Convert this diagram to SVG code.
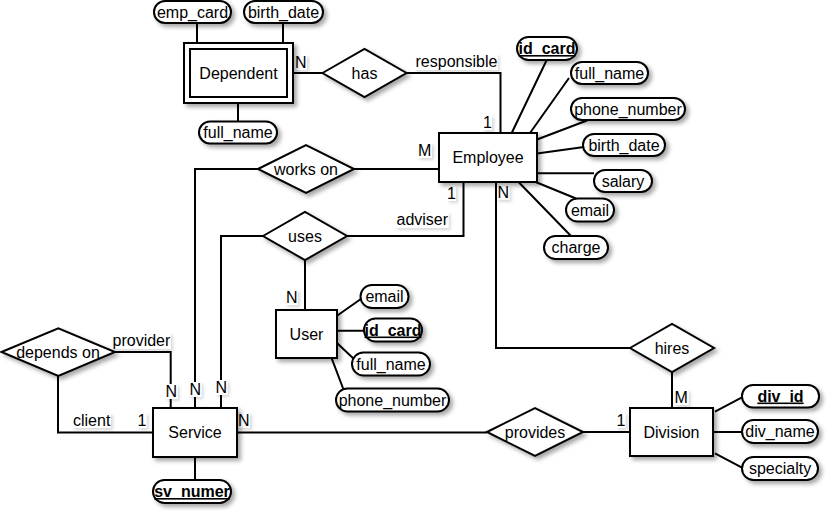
<svg xmlns="http://www.w3.org/2000/svg" width="834" height="520" viewBox="0 0 834 520">
<defs>
<filter id="sh" x="-20%" y="-20%" width="150%" height="160%">
<feDropShadow dx="3" dy="3" stdDeviation="2" flood-color="#000" flood-opacity="0.35"/>
</filter>
<filter id="shl" x="-20%" y="-20%" width="150%" height="160%">
<feDropShadow dx="2" dy="2" stdDeviation="1.5" flood-color="#000" flood-opacity="0.15"/>
</filter>
<style>
text{font-family:"Liberation Sans",Arial,sans-serif;font-size:16px;fill:#000}
.ent{fill:#fff;stroke:#000;stroke-width:2}
.rel{fill:#fff;stroke:#000;stroke-width:2}
.att{fill:#fff;stroke:#000;stroke-width:2}
.c text,.n text{text-anchor:middle}
.key{font-weight:bold;text-decoration:underline}
.ln{fill:none;stroke:#000;stroke-width:2}
.lb{fill:#fff}
</style>
</defs>
<rect width="834" height="520" fill="#fff"/>

<g id="connectors" class="ln">
<path d="M197 23V43M283 23V43M238 103V122"/>
<path d="M293 73H322.5M406.5 73H500.5V133"/>
<path d="M511.7 133L546.7 60M530 133L569 78M537 139.5L587 120.5M537 153.5L584 147M537 173.3H594M535 181.7L576 198.5M518.3 181.7L571 236"/>
<path d="M354 169H439M258 169H195V408"/>
<path d="M347 236H463.5V182M263 236H221V408M305 260V310"/>
<path d="M337 315.7L360.5 299.3M337 330.7H364M336.7 342.7L355 360M331.7 358.3L343.3 389"/>
<path d="M630 348H496V182M672 372V408"/>
<path d="M715 411.7L742 397.3M713 432H742M715 453.3L742 467.7"/>
<path d="M115 352H170.7V408M58 376V432.5H153"/>
<path d="M237 432.5H487M583 432H630"/>
<path d="M195 457V480"/>
</g>

<g id="labels">
<g filter="url(#shl)">
<rect class="lb" x="294" y="55" width="13" height="15"/>
<rect class="lb" x="414.5" y="54" width="83" height="16"/>
<rect class="lb" x="483" y="115" width="9" height="15"/>
<rect class="lb" x="417.5" y="143" width="14.5" height="15"/>
<rect class="lb" x="447" y="186" width="9" height="15"/>
<rect class="lb" x="497" y="185" width="12.5" height="15"/>
<rect class="lb" x="395.5" y="212" width="53" height="16"/>
<rect class="lb" x="285.5" y="290" width="12.5" height="15"/>
<rect class="lb" x="165" y="384" width="12.5" height="15"/>
<rect class="lb" x="189" y="382" width="12.5" height="15"/>
<rect class="lb" x="215" y="380" width="12.5" height="15"/>
<rect class="lb" x="112" y="333" width="59" height="16"/>
<rect class="lb" x="72.5" y="413" width="38.5" height="15"/>
<rect class="lb" x="137.5" y="413" width="9" height="15"/>
<rect class="lb" x="237.5" y="413" width="12.5" height="15"/>
<rect class="lb" x="616.5" y="413" width="9" height="15"/>
<rect class="lb" x="674" y="390" width="14.5" height="15"/>
</g>
<text x="295" y="68">N</text>
<text x="415.5" y="67">responsible</text>
<text x="483" y="128">1</text>
<text x="418" y="156">M</text>
<text x="447" y="199">1</text>
<text x="497.5" y="198">N</text>
<text x="396.5" y="225">adviser</text>
<text x="286" y="303">N</text>
<text x="165.5" y="397">N</text>
<text x="189.5" y="395">N</text>
<text x="215.5" y="393">N</text>
<text x="112.5" y="346">provider</text>
<text x="73" y="426">client</text>
<text x="137.5" y="426">1</text>
<text x="238" y="426">N</text>
<text x="616.5" y="426">1</text>
<text x="674.5" y="403">M</text>
</g>

<g id="Dependent" class="n">
<rect class="ent" x="184" y="43" width="109" height="60" filter="url(#sh)"/>
<rect class="ent" x="190" y="49" width="97" height="48"/>
<text x="238.5" y="78.5">Dependent</text>
</g>
<g id="Dependent_emp_card" class="n"><rect class="att" x="154" y="1" width="77" height="22" rx="11" filter="url(#sh)"/><text x="192.5" y="17.5">emp_card</text></g>
<g id="Dependent_birth_date" class="n"><rect class="att" x="244" y="1" width="79" height="22" rx="11" filter="url(#sh)"/><text x="283.5" y="17.5">birth_date</text></g>
<g id="Dependent_full_name" class="n"><rect class="att" x="199" y="121.5" width="78" height="22" rx="11" filter="url(#sh)"/><text x="238" y="138">full_name</text></g>

<g id="has" class="n"><polygon class="rel" points="322.5,73 364.5,49 406.5,73 364.5,97" filter="url(#sh)"/><text x="364.5" y="78.5">has</text></g>

<g id="Employee" class="n">
<rect class="ent" x="439" y="133" width="98" height="49" filter="url(#sh)"/>
<text x="488" y="163">Employee</text>
</g>
<g id="Employee_id_card" class="n"><rect class="att" x="517" y="37" width="60" height="23" rx="11.5" filter="url(#sh)"/><text class="key" x="547" y="54">id_card</text></g>
<g id="Employee_full_name" class="n"><rect class="att" x="571" y="62" width="77" height="22" rx="11" filter="url(#sh)"/><text x="609.5" y="78.5">full_name</text></g>
<g id="Employee_phone_number" class="n"><rect class="att" x="571" y="98" width="114" height="22" rx="11" filter="url(#sh)"/><text x="628" y="114.5">phone_number</text></g>
<g id="Employee_birth_date" class="n"><rect class="att" x="583" y="134" width="82" height="22" rx="11" filter="url(#sh)"/><text x="624" y="150.5">birth_date</text></g>
<g id="Employee_salary" class="n"><rect class="att" x="594" y="170" width="58" height="22" rx="11" filter="url(#sh)"/><text x="623" y="186.5">salary</text></g>
<g id="Employee_email" class="n"><rect class="att" x="566" y="198.5" width="48" height="23" rx="11.5" filter="url(#sh)"/><text x="590" y="215.5">email</text></g>
<g id="Employee_charge" class="n"><rect class="att" x="544" y="236" width="64" height="23" rx="11.5" filter="url(#sh)"/><text x="576" y="253">charge</text></g>

<g id="works_on" class="n"><polygon class="rel" points="258,169 306,145 354,169 306,193" filter="url(#sh)"/><text x="306" y="174.5">works on</text></g>
<g id="uses" class="n"><polygon class="rel" points="263,236 305,212 347,236 305,260" filter="url(#sh)"/><text x="305" y="241.5">uses</text></g>

<g id="User" class="n">
<rect class="ent" x="276" y="310" width="61" height="48" filter="url(#sh)"/>
<text x="306.5" y="339.5">User</text>
</g>
<g id="User_email" class="n"><rect class="att" x="360.5" y="285" width="48" height="23" rx="11.5" filter="url(#sh)"/><text x="384.5" y="302">email</text></g>
<g id="User_id_card" class="n"><rect class="att" x="364" y="318.5" width="58" height="23" rx="11.5" filter="url(#sh)"/><text class="key" x="393" y="335.5">id_card</text></g>
<g id="User_full_name" class="n"><rect class="att" x="352" y="352.5" width="78" height="23" rx="11.5" filter="url(#sh)"/><text x="391" y="369.5">full_name</text></g>
<g id="User_phone_number" class="n"><rect class="att" x="336" y="388.5" width="113" height="23" rx="11.5" filter="url(#sh)"/><text x="392.5" y="405.5">phone_number</text></g>

<g id="depends_on" class="n"><polygon class="rel" points="1.5,352 58.3,328.3 115,352 58.3,376" filter="url(#sh)"/><text x="58" y="357.5">depends on</text></g>

<g id="Service" class="n">
<rect class="ent" x="153" y="408" width="84" height="49" filter="url(#sh)"/>
<text x="195" y="438">Service</text>
</g>
<g id="Service_sv_numer" class="n"><rect class="att" x="153" y="480" width="78" height="23" rx="11.5" filter="url(#sh)"/><text class="key" x="192" y="497">sv_numer</text></g>

<g id="provides" class="n"><polygon class="rel" points="487,432 535,408 583,432 535,456" filter="url(#sh)"/><text x="535" y="437.5">provides</text></g>
<g id="hires" class="n"><polygon class="rel" points="630,348 672,324 714,348 672,372" filter="url(#sh)"/><text x="672" y="353.5">hires</text></g>

<g id="Division" class="n">
<rect class="ent" x="630" y="408" width="83" height="48" filter="url(#sh)"/>
<text x="671.5" y="437.5">Division</text>
</g>
<g id="Division_div_id" class="n"><rect class="att" x="742" y="385" width="77" height="22.5" rx="11" filter="url(#sh)"/><text class="key" x="780.5" y="401.5">div_id</text></g>
<g id="Division_div_name" class="n"><rect class="att" x="742" y="420" width="76" height="23" rx="11.5" filter="url(#sh)"/><text x="780" y="437">div_name</text></g>
<g id="Division_specialty" class="n"><rect class="att" x="742" y="457" width="76" height="23" rx="11.5" filter="url(#sh)"/><text x="780" y="474">specialty</text></g>
</svg>
